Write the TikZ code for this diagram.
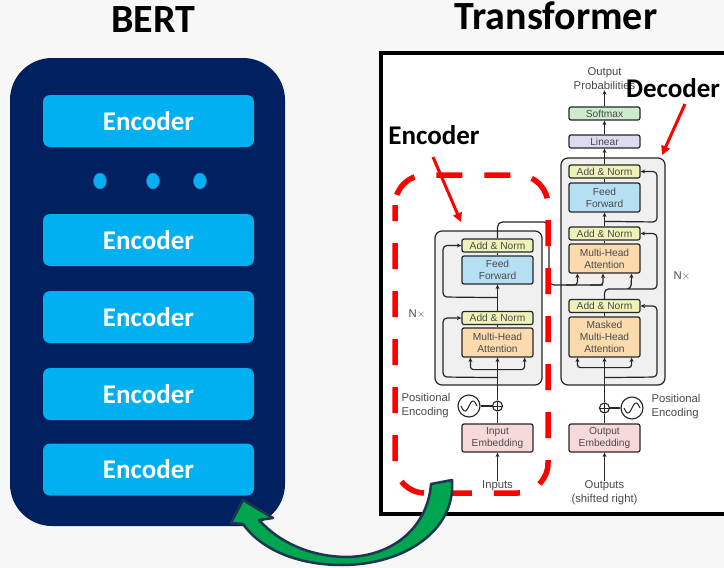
\documentclass[tikz,border=0pt]{standalone}
\usepackage{fontspec}
\setmainfont{Carlito}
\newfontfamily\tf{Liberation Sans}
\usetikzlibrary{arrows.meta,calc,shapes.geometric}
\definecolor{bgc}{HTML}{F7F7F7}
\definecolor{navy}{HTML}{002060}
\definecolor{sky}{HTML}{00B0F0}
\definecolor{dotline}{HTML}{2F6FB5}
\definecolor{tgray}{HTML}{4A4A4A}
\definecolor{lgray}{HTML}{F0F0F0}
\definecolor{ancol}{HTML}{EEF2B8}
\definecolor{ffcol}{HTML}{B5DFF3}
\definecolor{mhcol}{HTML}{FBDAAE}
\definecolor{embcol}{HTML}{F8D9D9}
\definecolor{smcol}{HTML}{CDEBCD}
\definecolor{lincol}{HTML}{DCDCF0}
\definecolor{lnc}{HTML}{262626}
\definecolor{arrgreen}{HTML}{00A64F}
\definecolor{arrnavy}{HTML}{1F3552}
\begin{document}
\begin{tikzpicture}[x=1pt,y=-1pt,
  bertbox/.style={fill=sky, rounded corners=7pt, minimum width=211pt, minimum height=52pt, inner sep=0pt, text=white, font=\bfseries\fontsize{27}{30}\selectfont},
  tbox/.style={draw=lnc, line width=1.2pt, rounded corners=2pt, minimum width=71pt, inner sep=0pt, align=center, text=tgray, font=\tf\fontsize{10.2}{12}\selectfont},
  tlabel/.style={text=tgray, align=center, inner sep=0pt, font=\tf\fontsize{11.3}{14}\selectfont},
  graybox/.style={draw=lnc, fill=lgray, line width=1.2pt, rounded corners=7pt},
  ln/.style={draw=lnc, line width=1.2pt},
  arr/.style={ln, -{Stealth[length=4.5pt,width=4pt]}},
  plusc/.style={circle, draw=lnc, line width=1.1pt, fill=white, minimum size=10pt, inner sep=0pt,
    path picture={\draw[lnc, line width=0.9pt] (path picture bounding box.north) -- (path picture bounding box.south) (path picture bounding box.west) -- (path picture bounding box.east);}},
  sinec/.style={circle, draw=lnc, line width=1.1pt, fill=white, minimum size=22pt, inner sep=0pt},
  redarr/.style={draw=red, line width=3pt, -{Triangle[length=9pt,width=9pt]}},
  bigtitle/.style={font=\bfseries\fontsize{40}{44}\selectfont, anchor=base, inner sep=0pt},
  lbl/.style={font=\bfseries\fontsize{27}{30}\selectfont, inner sep=0pt}
]
\useasboundingbox (0,0) rectangle (724,568);
\fill[bgc] (0,0) rectangle (724,568);

% ---------- BERT ----------
\node[bigtitle] (berttitle) at (153,32) {BERT};
\fill[navy, rounded corners=42pt] (10,58) rectangle (285,526);
\node[bertbox] (b1) at (148.5,121) {Encoder};
\node[bertbox] (b2) at (148.5,240) {Encoder};
\node[bertbox] (b3) at (148.5,317) {Encoder};
\node[bertbox] (b4) at (148.5,394) {Encoder};
\node[bertbox] (b5) at (148.5,469.5) {Encoder};
\foreach \i/\xx in {1/100,2/153,3/200}{
  \node[ellipse, fill=sky, draw=dotline, line width=0.5pt, minimum width=13pt, minimum height=16pt, inner sep=0pt] (dot\i) at (\xx,181) {};
}

% ---------- Transformer ----------
\node[bigtitle] (ttitle) at (556,29.5) {Transformer};
\draw[line width=4pt, fill=white] (381,53) rectangle (732,514);

% gray stacks
\draw[graybox] (435,231) rectangle (542,385);
\draw[graybox] (561,158) rectangle (665,385);

% encoder column
\node[tbox, fill=ancol, minimum height=13pt] (enAN2) at (497.5,245.5) {Add \& Norm};
\node[tbox, fill=ffcol, minimum height=28pt] (enFF) at (497.5,270) {Feed\\Forward};
\node[tbox, fill=ancol, minimum height=13pt] (enAN1) at (497.5,318) {Add \& Norm};
\node[tbox, fill=mhcol, minimum height=29pt] (enMHA) at (497.5,342.5) {Multi-Head\\Attention};
\node[tbox, fill=embcol, minimum height=28pt] (enEmb) at (497.5,438) {Input\\Embedding};
\node[plusc] (enPlus) at (497.5,406) {};
\node[sinec] (enSine) at (469,406) {};
\draw[lnc, line width=1pt, shift={(enSine.center)}, domain=-8:8, samples=40] plot (\x, {-5*sin(\x*22.5)});
\node[tlabel] (inputs) at (497.5,486) {Inputs};
\node[tlabel, align=left] (enPos) at (426,406) {Positional\\Encoding};
\node[tlabel] (enNx) at (417,314) {N$\times$};

% decoder column
\node[tlabel] (outprob) at (604.5,79) {Output\\Probabilities};
\node[tbox, fill=smcol, minimum height=13pt] (softmax) at (604.5,113.5) {Softmax};
\node[tbox, fill=lincol, minimum height=13pt] (linear) at (604.5,141.5) {Linear};
\node[tbox, fill=ancol, minimum height=13pt] (deAN3) at (604.5,171.5) {Add \& Norm};
\node[tbox, fill=ffcol, minimum height=29pt] (deFF) at (604.5,197.5) {Feed\\Forward};
\node[tbox, fill=ancol, minimum height=13pt] (deAN2) at (604.5,233.5) {Add \& Norm};
\node[tbox, fill=mhcol, minimum height=29pt] (deMHA) at (604.5,258.5) {Multi-Head\\Attention};
\node[tbox, fill=ancol, minimum height=13pt] (deAN1) at (604.5,306) {Add \& Norm};
\node[tbox, fill=mhcol, minimum height=40pt] (deMMHA) at (604.5,337) {Masked\\Multi-Head\\Attention};
\node[tbox, fill=embcol, minimum height=28pt] (deEmb) at (604.5,438) {Output\\Embedding};
\node[plusc] (dePlus) at (604.5,408) {};
\node[sinec] (deSine) at (632,408) {};
\draw[lnc, line width=1pt, shift={(deSine.center)}, domain=-8:8, samples=40] plot (\x, {-5*sin(\x*22.5)});
\node[tlabel] (outputs) at (604.5,493) {Outputs\\(shifted right)};
\node[tlabel, align=left] (dePos) at (676,407) {Positional\\Encoding};
\node[tlabel] (deNx) at (682,276) {N$\times$};

% encoder connectors
\draw[arr] (inputs.north) -- (enEmb.south);
\draw[ln] (enEmb.north) -- (enPlus.south);
\draw[ln] (enSine.east) -- (enPlus.west);
\draw[arr] (enPlus.north) -- (enMHA.south);
\draw[arr, rounded corners=3pt] ($(enMHA.south)+(0,12)$) -| ($(enMHA.south west)+(9,0)$);
\draw[arr, rounded corners=3pt] ($(enMHA.south)+(0,12)$) -| ($(enMHA.south east)+(-9,0)$);
\draw[arr, rounded corners=4pt] ($(enMHA.south)+(0,20)$) -- (443,377) -- (443,318) -- (enAN1.west);
\draw[ln] (enMHA.north) -- (enAN1.south);
\draw[arr] (enAN1.north) -- (enFF.south);
\draw[arr, rounded corners=4pt] ($(enFF.south)+(0,13)$) -- (443,297) -- (443,245.5) -- (enAN2.west);
\draw[ln] (enFF.north) -- (enAN2.south);
\draw[ln, rounded corners=5pt] (enAN2.north) |- (549,222) |- (603,285);
\draw[arr, rounded corners=3pt] (566,285) -| ($(deMHA.south west)+(9,0)$);
\draw[arr, rounded corners=3pt] (590,285) -| ($(deMHA.south)+(-1.5,0)$);

% decoder connectors
\draw[arr] (outputs.north) -- (deEmb.south);
\draw[ln] (deEmb.north) -- (dePlus.south);
\draw[ln] (deSine.west) -- (dePlus.east);
\draw[arr] (dePlus.north) -- (deMMHA.south);
\draw[arr, rounded corners=3pt] ($(deMMHA.south)+(0,10)$) -| ($(deMMHA.south west)+(9,0)$);
\draw[arr, rounded corners=3pt] ($(deMMHA.south)+(0,10)$) -| ($(deMMHA.south east)+(-9,0)$);
\draw[arr, rounded corners=4pt] ($(deMMHA.south)+(0,20)$) -- (657,377) -- (657,306) -- (deAN1.east);
\draw[ln] (deMMHA.north) -- (deAN1.south);
\draw[arr, rounded corners=4pt] (deAN1.north) -- (604.5,289) -- (631,289) -- ($(deMHA.south east)+(-9,0)$);
\draw[arr, rounded corners=4pt] (628,289) -- (657,289) -- (657,233.5) -- (deAN2.east);
\draw[ln] (deMHA.north) -- (deAN2.south);
\draw[arr] (deAN2.north) -- (deFF.south);
\draw[arr, rounded corners=4pt] ($(deAN2.north)+(0,-5)$) -- (657,222) -- (657,171.5) -- (deAN3.east);
\draw[ln] (deFF.north) -- (deAN3.south);
\draw[arr] (deAN3.north) -- (linear.south);
\draw[arr] (linear.north) -- (softmax.south);
\draw[arr] (softmax.north) -- (outprob.south);

% red highlight
\draw[red, line width=5.5pt, dash pattern=on 26pt off 22pt, dash phase=10pt, rounded corners=30pt] (395,175) rectangle (548,493);
\node[lbl] (encLbl) at (434,135) {Encoder};
\coordinate (encTip) at (461,222);
\draw[redarr] (433,157) -- (encTip);
\node[lbl] (decLbl) at (673,88) {Decoder};
\coordinate (decTip) at (662,155);
\draw[redarr] (685,104) -- (decTip);

% green curved arrow
\filldraw[fill=arrgreen, draw=arrnavy, line width=2.5pt, line join=round]
  (452,480) .. controls (456,530) and (405,565) .. (342,565)
  .. controls (295,565) and (260,548) .. (243,524)
  -- (231,523) -- (243,500) -- (273,518) -- (259,520)
  .. controls (280,543) and (310,556) .. (345,557)
  .. controls (395,557) and (428,525) .. (431,484) -- cycle;
\end{tikzpicture}
\end{document}
